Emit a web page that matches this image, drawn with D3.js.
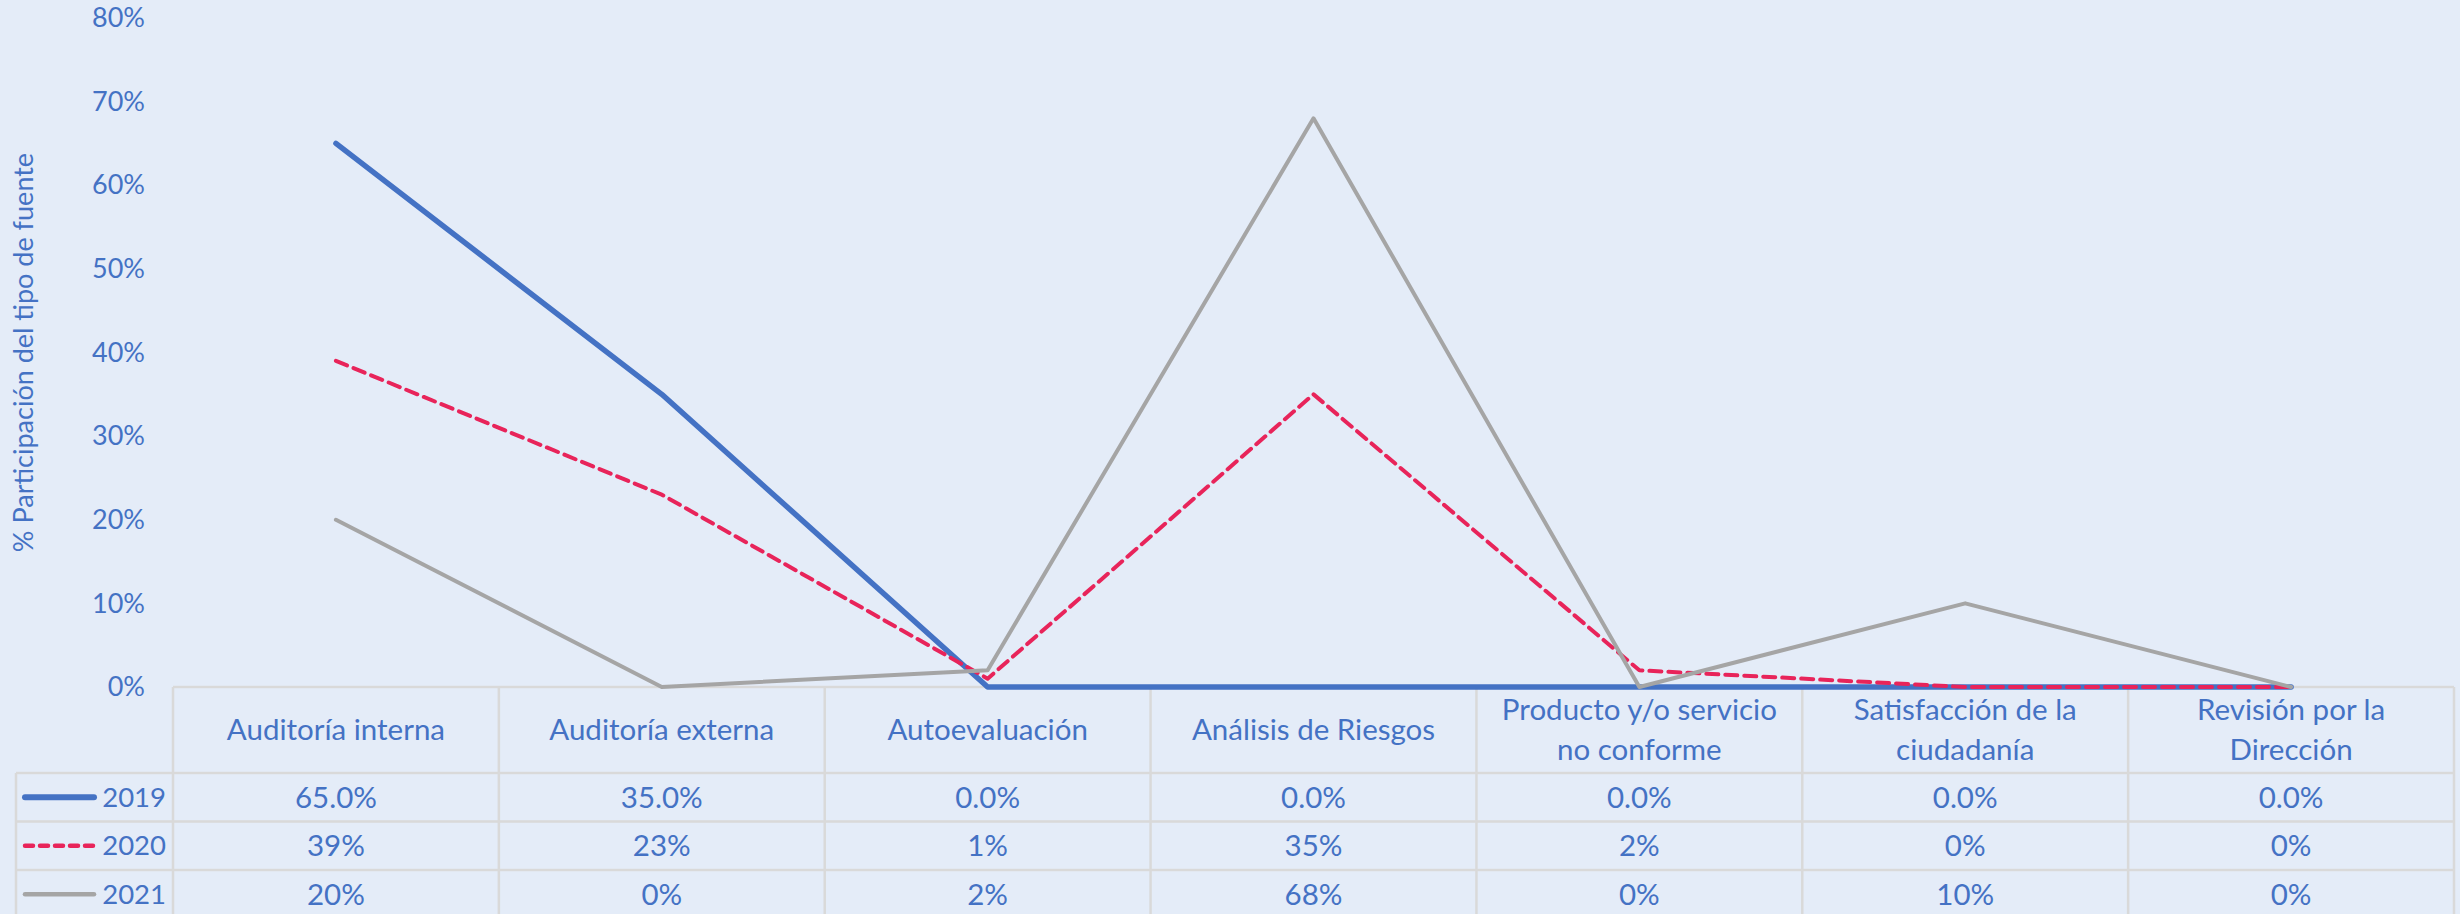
<!DOCTYPE html>
<html>
<head>
<meta charset="utf-8">
<script src="https://cdn.jsdelivr.net/npm/d3@7/dist/d3.min.js"></script>
<style>
  html, body { margin: 0; padding: 0; background: #E4ECF8; }
  svg { display: block; }
  text { font-family: Lato, "Open Sans", sans-serif; fill: #4472C4; }
</style>
</head>
<body>
<svg id="chart" width="2460" height="914"></svg>
<script>
// ---- data ----
const categories = [
  ["Auditoría interna"],
  ["Auditoría externa"],
  ["Autoevaluación"],
  ["Análisis de Riesgos"],
  ["Producto y/o servicio", "no conforme"],
  ["Satisfacción de la", "ciudadanía"],
  ["Revisión por la", "Dirección"]
];
const seriesNames = ["2019", "2020", "2021"];
const values2019 = [65, 35, 0, 0, 0, 0, 0];
const values2020 = [39, 23, 1, 35, 2, 0, 0];
const values2021 = [20, 0, 2, 68, 0, 10, 0];
const labels2019 = ["65.0%", "35.0%", "0.0%", "0.0%", "0.0%", "0.0%", "0.0%"];
const labels2020 = ["39%", "23%", "1%", "35%", "2%", "0%", "0%"];
const labels2021 = ["20%", "0%", "2%", "68%", "0%", "10%", "0%"];
const yTicks = [0, 10, 20, 30, 40, 50, 60, 70, 80];
const yTitle = "% Participación del tipo de fuente";

const series = [
  { name: seriesNames[0], values: values2019, labels: labels2019, color: "#4472C4", width: 5.5, dash: null },
  { name: seriesNames[1], values: values2020, labels: labels2020, color: "#E8245A", width: 4, dash: "12,7" },
  { name: seriesNames[2], values: values2021, labels: labels2021, color: "#A5A5A5", width: 4, dash: null }
];

// ---- layout ----
const svg = d3.select("#chart");
const plotLeft = 173, plotRight = 2454, plotTop = 18, plotBottom = 687;
const legendLeft = 16;
const headerBottom = 773, rowH = 48.5;
const gridColor = "#D9D9D9";
const fs = 27, fsT = 29.5, fsL = 27.5;

const x = d3.scaleBand().domain(d3.range(categories.length)).range([plotLeft, plotRight]).padding(0);
const y = d3.scaleLinear().domain([0, 80]).range([plotBottom, plotTop]);

// y axis labels
const yAxis = d3.axisLeft(y).tickValues(yTicks).tickFormat(d => d + "%").tickSize(0).tickPadding(0);
const gy = svg.append("g").attr("transform", `translate(145,0)`).call(yAxis);
gy.select(".domain").remove();
gy.selectAll("text").style("font-size", fs + "px").style("font-family", "Lato, sans-serif").attr("fill", "#4472C4");

// y title
svg.append("text")
  .attr("transform", `translate(33,${(plotTop + plotBottom) / 2}) rotate(-90)`)
  .attr("text-anchor", "middle")
  .style("font-size", fs + "px")
  .text(yTitle);

// ---- table grid ----
const grid = svg.append("g").attr("stroke", gridColor).attr("stroke-width", 2.5).attr("fill", "none");
const rowLines = [headerBottom, headerBottom + rowH, headerBottom + 2 * rowH, headerBottom + 3 * rowH];
grid.append("line").attr("x1", plotLeft).attr("x2", plotRight).attr("y1", plotBottom).attr("y2", plotBottom);
rowLines.forEach(yy => grid.append("line").attr("x1", legendLeft).attr("x2", plotRight).attr("y1", yy).attr("y2", yy));
const verts = d3.range(categories.length + 1).map(i => i < categories.length ? x(i) : plotRight);
verts.forEach(xx => grid.append("line").attr("x1", xx).attr("x2", xx).attr("y1", plotBottom).attr("y2", 914));
grid.append("line").attr("x1", legendLeft).attr("x2", legendLeft).attr("y1", headerBottom).attr("y2", 914);

// header labels
categories.forEach((lines, i) => {
  const cx = x(i) + x.bandwidth() / 2;
  const cy = (plotBottom + headerBottom) / 2;
  const lh = 40;
  lines.forEach((ln, j) => {
    svg.append("text")
      .attr("x", cx)
      .attr("y", cy + (j - (lines.length - 1) / 2) * lh)
      .attr("dy", "0.35em")
      .attr("text-anchor", "middle")
      .style("font-size", fsT + "px")
      .text(ln);
  });
});

// rows
series.forEach((s, r) => {
  const cy = headerBottom + rowH * (r + 0.5);
  svg.append("line")
    .attr("x1", 25).attr("x2", 94).attr("y1", cy).attr("y2", cy)
    .attr("stroke", s.color).attr("stroke-width", s.width + 0.5)
    .attr("stroke-linecap", "round")
    .attr("stroke-dasharray", s.dash ? "8,7" : null);
  svg.append("text").attr("x", 166).attr("y", cy).attr("dy", "0.35em")
    .attr("text-anchor", "end").style("font-size", fsL + "px").text(s.name);
  s.labels.forEach((lb, i) => {
    svg.append("text")
      .attr("x", x(i) + x.bandwidth() / 2).attr("y", cy).attr("dy", "0.35em")
      .attr("text-anchor", "middle").style("font-size", fsT + "px").text(lb);
  });
});

// ---- lines ----
const line = d3.line().x((d, i) => x(i) + x.bandwidth() / 2).y(d => y(d));
series.forEach(s => {
  svg.append("path")
    .datum(s.values)
    .attr("d", line)
    .attr("fill", "none")
    .attr("stroke", s.color)
    .attr("stroke-width", s.width)
    .attr("stroke-linejoin", "round")
    .attr("stroke-linecap", "round")
    .attr("stroke-dasharray", s.dash);
});
</script>
</body>
</html>
